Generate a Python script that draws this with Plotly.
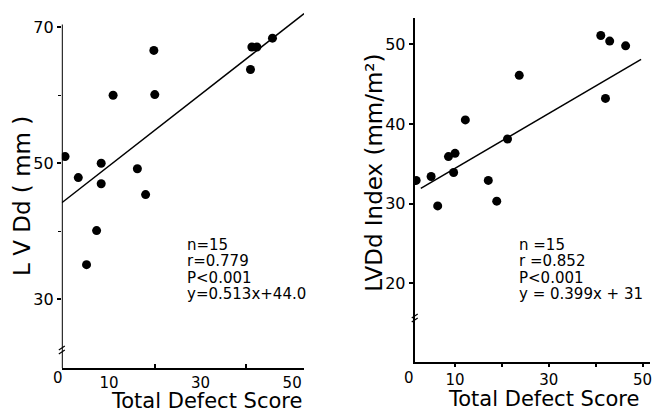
import plotly.graph_objects as go

W, H = 652, 414

# ---- data ----
left_x = [0.4, 3.3, 5.1, 7.3, 8.3, 8.3, 10.9, 16.2, 18.0, 19.8, 20.0, 40.9, 41.2, 42.3, 45.7]
left_y = [51.0, 47.9, 35.1, 40.1, 50.0, 47.0, 60.0, 49.2, 45.4, 66.6, 60.1, 63.8, 67.1, 67.1, 68.4]
left_fit_x = [-0.3, 52.6]
left_fit_y = [44.2, 72.0]
left_stats = ["n=15", "r=0.779", "P<0.001", "y=0.513x+44.0"]

right_x = [1.7, 4.9, 6.3, 8.6, 10.0, 9.7, 12.2, 17.1, 18.9, 21.2, 23.7, 41.1, 43.0, 42.1, 46.4]
right_y = [32.9, 33.4, 29.7, 35.9, 36.3, 33.9, 40.5, 32.9, 30.3, 38.1, 46.1, 51.1, 50.4, 43.2, 49.8]
right_fit_x = [2.7, 49.7]
right_fit_y = [31.9, 48.1]
right_stats = ["n =15", "r =0.852", "P<0.001", "y = 0.399x + 31"]

x_tickvals = [10, 30, 50]
x_ticktext = ["10", "30", "50"]
x_zero_label = "0"
x_minor = [20, 40]
left_yticks = [30, 50, 70]
left_yminor = [40, 60]
right_yticks = [20, 30, 40, 50]

FONT = "DejaVu Sans"


def px(x):
    return x / W


def py(y):
    return 1 - y / H


fig = go.Figure()

fig.add_trace(go.Scatter(x=left_x, y=left_y, mode="markers",
                         marker=dict(color="black", size=9), xaxis="x", yaxis="y"))
fig.add_trace(go.Scatter(x=left_fit_x, y=left_fit_y, mode="lines",
                         line=dict(color="black", width=1.5), xaxis="x", yaxis="y"))
fig.add_trace(go.Scatter(x=right_x, y=right_y, mode="markers",
                         marker=dict(color="black", size=9), xaxis="x2", yaxis="y2"))
fig.add_trace(go.Scatter(x=right_fit_x, y=right_fit_y, mode="lines",
                         line=dict(color="black", width=1.5), xaxis="x2", yaxis="y2"))

tickfont = dict(family=FONT, size=16, color="black")
xtickfont = dict(family=FONT, size=15, color="black")

fig.update_layout(
    width=W, height=H,
    margin=dict(l=0, r=0, t=0, b=0),
    paper_bgcolor="white", plot_bgcolor="white",
    showlegend=False,
    xaxis=dict(domain=[px(62), px(305)], range=[-0.3, 52.6],
               tickvals=x_tickvals, ticktext=x_ticktext, ticks="", ticklen=0,
               showline=True, linecolor="black", linewidth=2,
               showgrid=False, zeroline=False, tickfont=xtickfont,
               ticklabeloverflow="allow",
               minor=dict(tickvals=x_minor, ticks="inside", ticklen=4,
                          tickcolor="black", tickwidth=1.5, showgrid=False),
               anchor="y"),
    yaxis=dict(domain=[py(368), py(13)], range=[19.9, 72.1],
               tickvals=left_yticks, ticks="outside", ticklen=4,
               tickcolor="black", tickwidth=1.5,
               showline=False, showgrid=False, zeroline=False,
               tickfont=tickfont,
               minor=dict(tickvals=left_yminor, ticks="outside", ticklen=3,
                          tickcolor="black", tickwidth=1.2, showgrid=False),
               anchor="x"),
    xaxis2=dict(domain=[px(416), 1.0], range=[1.4, 51.6],
                tickvals=x_tickvals, ticktext=x_ticktext, ticks="outside",
                ticklen=3, tickcolor="black", tickwidth=1.5,
                showline=True, linecolor="black", linewidth=2,
                showgrid=False, zeroline=False, tickfont=xtickfont,
                ticklabeloverflow="allow",
                minor=dict(tickvals=x_minor, ticks="outside", ticklen=3,
                           tickcolor="black", tickwidth=1.5, showgrid=False),
                anchor="y2"),
    yaxis2=dict(domain=[py(362), py(18)], range=[10.1, 53.3],
                tickvals=right_yticks, ticks="outside", ticklen=4,
                tickcolor="black", tickwidth=1.5,
                showline=True, linecolor="black", linewidth=2,
                showgrid=False, zeroline=False, tickfont=tickfont,
                anchor="x2"),
)

shapes = []
# left y axis line (stops at the 70 tick level)
shapes.append(dict(type="line", xref="x", yref="y", x0=-0.3, x1=-0.3, y0=19.9, y1=70.4,
                   line=dict(color="black", width=2)))
# axis break marks
for ax_px, br_py in [(62, 350), (416, 318)]:
    for off in (-2, 2):
        shapes.append(dict(type="line", xref="paper", yref="paper",
                           x0=px(ax_px - 3), y0=py(br_py + off + 2),
                           x1=px(ax_px + 3), y1=py(br_py + off - 2),
                           line=dict(color="black", width=1.2)))
fig.update_layout(shapes=shapes)

ann = []
stat_rows = [245, 261, 278, 294]
for txt, row in zip(left_stats, stat_rows):
    ann.append(dict(x=px(186), y=py(row), xref="paper", yref="paper", text=txt,
                    showarrow=False, xanchor="left", yanchor="middle",
                    font=dict(family=FONT, size=15, color="black")))
for txt, row in zip(right_stats, stat_rows):
    ann.append(dict(x=px(519), y=py(row), xref="paper", yref="paper", text=txt,
                    showarrow=False, xanchor="left", yanchor="middle",
                    font=dict(family=FONT, size=15, color="black")))

# "0" labels at the origin of each x axis
for zx in (58, 410):
    ann.append(dict(x=px(zx), y=py(378), xref="paper", yref="paper", text=x_zero_label,
                    showarrow=False, xanchor="center", yanchor="middle",
                    font=xtickfont))

ann.append(dict(x=px(207), y=py(401), xref="paper", yref="paper", text="Total Defect Score",
                showarrow=False, xanchor="center", yanchor="middle",
                font=dict(family=FONT, size=21, color="black")))
ann.append(dict(x=px(447), y=py(399), xref="paper", yref="paper", text="Total Defect Score",
                showarrow=False, xanchor="left", yanchor="middle",
                font=dict(family=FONT, size=21, color="black")))
ann.append(dict(x=px(22), y=py(196), xref="paper", yref="paper", text="L V Dd ( mm )",
                showarrow=False, xanchor="center", yanchor="middle", textangle=-90,
                font=dict(family=FONT, size=23, color="black")))
ann.append(dict(x=px(375), y=py(173), xref="paper", yref="paper", text="LVDd Index (mm/m²)",
                showarrow=False, xanchor="center", yanchor="middle", textangle=-90,
                font=dict(family=FONT, size=23, color="black")))
fig.update_layout(annotations=ann)

fig.write_html("out.html", config={"displayModeBar": False},
               post_script="document.body.style.margin='0';")
